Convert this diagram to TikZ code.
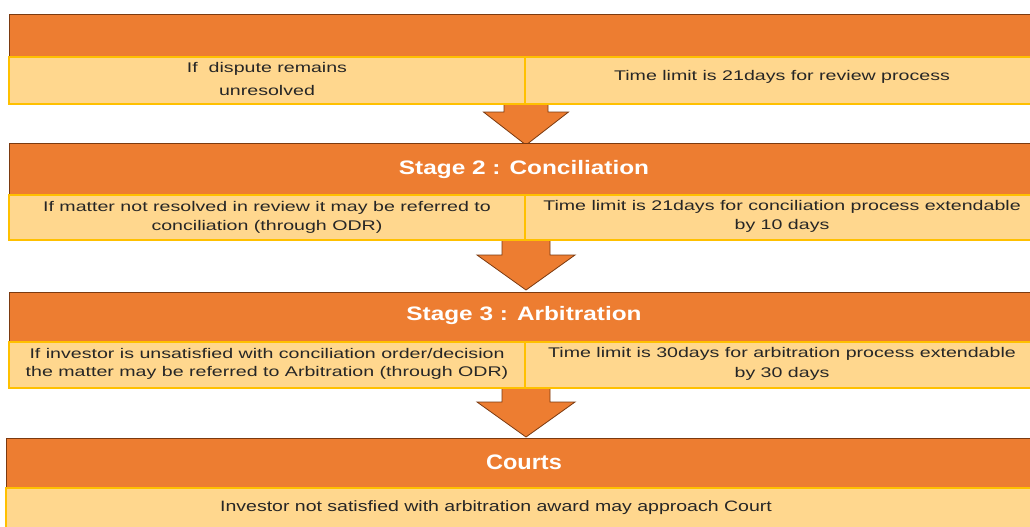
\documentclass[tikz,border=0pt]{standalone}
\usepackage{fontspec}
\setmainfont{Liberation Sans}
\newfontfamily\bodyfont[FakeStretch=1.4]{Liberation Sans}
\newfontfamily\botfont[FakeStretch=1.3]{Liberation Sans}
\newfontfamily\headfont[FakeStretch=1.25]{Liberation Sans}
\newfontfamily\courtfont[FakeStretch=1.12]{Liberation Sans}
\definecolor{orng}{HTML}{ED7D31}
\definecolor{pale}{HTML}{FFD78E}
\definecolor{gold}{HTML}{FFC000}
\definecolor{rust}{HTML}{7B3A10}
\definecolor{ink}{HTML}{262626}
\begin{document}
\begin{tikzpicture}[x=1pt,y=-1pt,
  header/.style={fill=orng, draw=rust, line width=1pt, anchor=north west, minimum width=1040pt, inner sep=0pt, outer sep=0pt},
  cell/.style={fill=pale, draw=gold, line width=1.3pt, anchor=north west, inner sep=0pt, outer sep=0pt},
  celltext/.style={text=ink, font=\bodyfont\fontsize{14}{19}\selectfont, align=center, inner sep=0pt},
  headtext/.style={text=white, font=\headfont\bfseries\fontsize{19.5}{22}\selectfont, inner sep=0pt},
  blockarrow/.style={fill=orng, draw=rust, line width=0.8pt, line join=miter}]
\useasboundingbox (0,0) rectangle (1030,527);
\clip (0,0) rectangle (1030,527);
\fill[white] (0,0) rectangle (1030,527);

% arrows (drawn first, under the blocks)
\coordinate (a1t) at (526,145);
\fill[orng] (504,103) -- (504,112) -- (483.5,112) -- (a1t) -- (568.5,112) -- (548,112) -- (548,103) -- cycle;
\draw[blockarrow, fill=none] (504,103) -- (504,112) -- (483.5,112) -- (a1t) -- (568.5,112) -- (548,112) -- (548,103);

\coordinate (a2t) at (526,290);
\fill[orng] (502,239) -- (502,255) -- (477,255) -- (a2t) -- (575,255) -- (550,255) -- (550,239) -- cycle;
\draw[blockarrow, fill=none] (502,239) -- (502,255) -- (477,255) -- (a2t) -- (575,255) -- (550,255) -- (550,239);

\coordinate (a3t) at (526,437);
\fill[orng] (502,387) -- (502,402) -- (477,402) -- (a3t) -- (575,402) -- (550,402) -- (550,387) -- cycle;
\draw[blockarrow, fill=none] (502,387) -- (502,402) -- (477,402) -- (a3t) -- (575,402) -- (550,402) -- (550,387);

% Block 1
\node[header, minimum height=42pt] (h1) at (9,15) {};
\node[cell, minimum width=516pt, minimum height=47pt] (l1) at (9,57) {};
\node[cell, minimum width=516pt, minimum height=47pt] (r1) at (525,57) {};
\node[celltext, font=\bodyfont\fontsize{14}{23}\selectfont] (tl1) at (267,79) {If\ \ dispute remains\\unresolved};
\node[celltext] (tr1) at (782,77) {Time limit is 21days for review process};

% Block 2
\node[header, minimum height=52pt] (h2) at (9,143) {};
\node[headtext] (th2) at (524,169) {Stage 2 : Conciliation};
\node[cell, minimum width=516pt, minimum height=45pt] (l2) at (9,195) {};
\node[cell, minimum width=516pt, minimum height=45pt] (r2) at (525,195) {};
\node[celltext] (tl2) at (267,217) {If matter not resolved in review it may be referred to\\conciliation (through ODR)};
\node[celltext] (tr2) at (782,216) {Time limit is 21days for conciliation process extendable\\by 10 days};

% Block 3
\node[header, minimum height=50pt] (h3) at (9,292) {};
\node[headtext] (th3) at (524,315) {Stage 3 : Arbitration};
\node[cell, minimum width=516pt, minimum height=46pt] (l3) at (9,342) {};
\node[cell, minimum width=516pt, minimum height=46pt] (r3) at (525,342) {};
\node[celltext, font=\bodyfont\fontsize{14}{17.5}\selectfont] (tl3) at (267,364) {If investor is unsatisfied with conciliation order/decision\\the matter may be referred to Arbitration (through ODR)};
\node[celltext, font=\bodyfont\fontsize{14}{20}\selectfont] (tr3) at (782,364) {Time limit is 30days for arbitration process extendable\\by 30 days};

% Block 4
\node[header, minimum height=50pt] (h4) at (6,438) {};
\node[headtext, font=\courtfont\bfseries\fontsize{21}{24}\selectfont] (th4) at (524,462) {Courts};
\node[cell, minimum width=1040pt, minimum height=50pt] (l4) at (6,488) {};
\node[celltext, font=\botfont\fontsize{15}{18}\selectfont] (tl4) at (496,508) {Investor not satisfied with arbitration award may approach Court};
\end{tikzpicture}
\end{document}
